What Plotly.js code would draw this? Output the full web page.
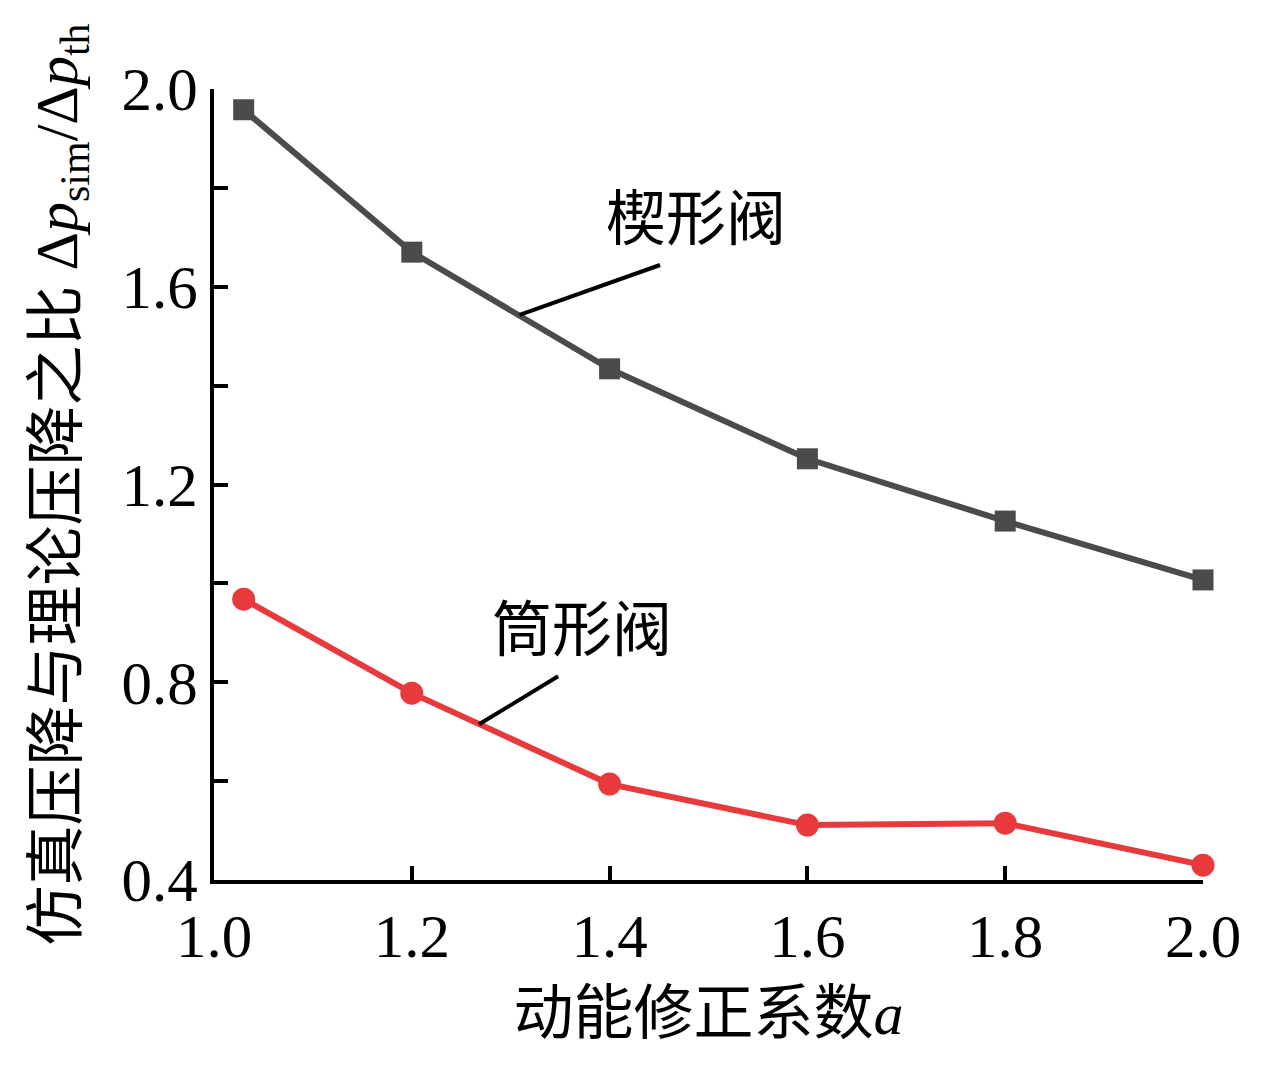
<!DOCTYPE html>
<html>
<head>
<meta charset="utf-8">
<script src="https://cdn.plot.ly/plotly-3.0.1.min.js"></script>
<style>
  body { margin: 0; background: #fff; }
  #chart { width: 1275px; height: 1088px; }
</style>
</head>
<body>
<div id="chart"></div>
<script>
// kinetic energy correction factor a
var coefA = [1.03, 1.2, 1.4, 1.6, 1.8, 2.0];
// ratio of simulated to theoretical pressure drop
var wedgeRatio = [1.958, 1.670, 1.434, 1.252, 1.126, 1.007];
var tubeRatio = [0.968, 0.778, 0.594, 0.511, 0.515, 0.430];

var seriesNames = ["楔形阀", "筒形阀"];
// label text position and leader line [x0, y0, x1, y1] in data units
var labelPos = [[1.487, 1.735], [1.372, 0.904]];
var leaders = [[1.309, 1.543, 1.451, 1.644], [1.268, 0.715, 1.348, 0.812]];

var font = "Liberation Serif, Times New Roman, Noto Sans CJK SC, serif";

var traces = [
  {
    x: coefA, y: wedgeRatio, name: seriesNames[0],
    type: "scatter", mode: "lines+markers", cliponaxis: false,
    line: {color: "#4b4b4b", width: 6},
    marker: {symbol: "square", size: 21, color: "#4b4b4b"}
  },
  {
    x: coefA, y: tubeRatio, name: seriesNames[1],
    type: "scatter", mode: "lines+markers", cliponaxis: false,
    line: {color: "#e8393d", width: 6},
    marker: {symbol: "circle", size: 23, color: "#e8393d"}
  }
];

var annotations = seriesNames.map(function(n, i) {
  return {
    x: labelPos[i][0], y: labelPos[i][1], xref: "x", yref: "y",
    text: n, showarrow: false,
    font: {family: font, size: 60, color: "#000"}
  };
});

var shapes = leaders.map(function(l) {
  return {
    type: "line", xref: "x", yref: "y",
    x0: l[0], y0: l[1], x1: l[2], y1: l[3],
    line: {color: "#000", width: 4}
  };
});

var layout = {
  width: 1275, height: 1088,
  margin: {l: 214, r: 72, t: 89, b: 208},
  paper_bgcolor: "#fff", plot_bgcolor: "#fff",
  showlegend: false,
  font: {family: font, size: 60, color: "#000"},
  xaxis: {
    range: [1.0, 2.0], tick0: 1.0, dtick: 0.2, tickformat: ".1f",
    showgrid: false, zeroline: false,
    showline: true, linecolor: "#000", linewidth: 4,
    ticks: "inside", ticklen: 14, tickwidth: 4, tickcolor: "#000",
    ticklabelstandoff: 0,
    tickfont: {family: font, size: 61},
    title: {text: "动能修正系数<i>a</i>", font: {family: font, size: 60}, standoff: 24}
  },
  yaxis: {
    range: [0.4, 2.0], tick0: 0.4, dtick: 0.4, tickformat: ".1f",
    showgrid: false, zeroline: false,
    showline: true, linecolor: "#000", linewidth: 4,
    ticks: "inside", ticklen: 14, tickwidth: 4, tickcolor: "#000",
    ticklabelstandoff: 0,
    tickfont: {family: font, size: 61},
    minor: {tick0: 0.4, dtick: 0.2, ticks: "inside", ticklen: 14, tickwidth: 4, tickcolor: "#000"},
    title: {
      text: "仿真压降与理论压降之比 Δ<i>p</i><sub>sim</sub>/Δ<i>p</i><sub>th</sub>",
      font: {family: font, size: 60}, standoff: 26
    }
  },
  annotations: annotations,
  shapes: shapes
};

Plotly.newPlot("chart", traces, layout, {displayModeBar: false, staticPlot: true});
</script>
</body>
</html>
